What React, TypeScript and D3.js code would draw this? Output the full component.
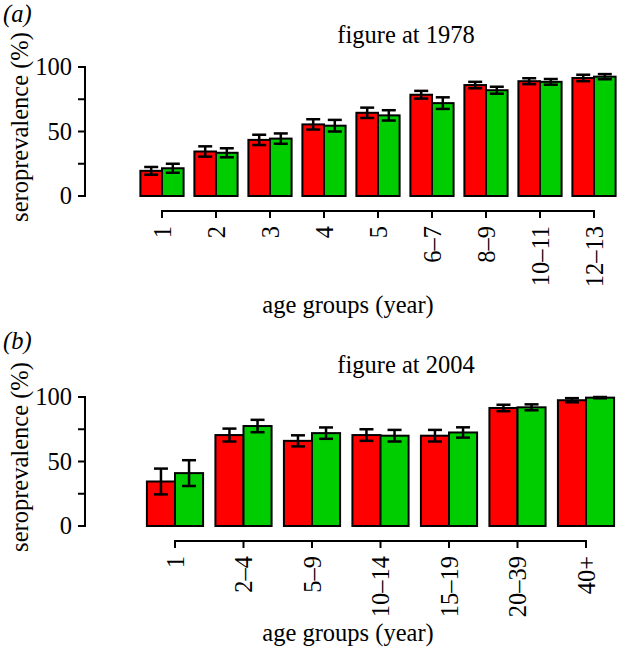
import React from "react";
import * as d3 from "d3";

const groupsA = ["1", "2", "3", "4", "5", "6–7", "8–9", "10–11", "12–13"];
const redA = [19.5, 34.5, 43.5, 55.5, 64.5, 78.5, 86, 89, 91.5];
const redErrA = [3, 4, 4, 4, 4, 3, 2.5, 2.3, 2.5];
const greenA = [21.5, 33.5, 44.5, 54.5, 62.5, 72, 82, 88.5, 92.5];
const greenErrA = [3.5, 3.5, 4, 4.5, 4, 4.5, 2.7, 2.2, 2];

const groupsB = ["1", "2–4", "5–9", "10–14", "15–19", "20–39", "40+"];
const redB = [34.5, 70.5, 66, 70.5, 70, 91.5, 97.5];
const redErrB = [10, 5, 4.3, 4.5, 4.5, 2.5, 1.6];
const greenB = [41, 77.5, 72, 70, 72.5, 92, 99.5];
const greenErrB = [10, 4.8, 4.4, 4.5, 4, 2.3, 0.5];

const yTicks = [0, 25, 50, 75, 100];
const yLabelTicks = [0, 50, 100];

const FONT = "'Liberation Serif', 'Times New Roman', serif";
const FS = 24.5;
const RED = "#FF0000";
const GREEN = "#00CD00";

type PanelProps = {
  tag: string;
  tagY: number;
  title: string;
  groups: string[];
  red: number[];
  redErr: number[];
  green: number[];
  greenErr: number[];
  top: number;
  xRange: [number, number];
  padInner: number;
};

function Panel(p: PanelProps) {
  const y0 = p.top + 196;
  const y1 = p.top + 67;
  const y = d3.scaleLinear().domain([0, 100]).range([y0, y1]);
  const x = d3
    .scaleBand<string>()
    .domain(p.groups)
    .range(p.xRange)
    .paddingInner(p.padInner)
    .paddingOuter(p.padInner / 2);
  const sub = d3.scaleBand<string>().domain(["r", "g"]).range([0, x.bandwidth()]);
  const axisY = p.top + 211;
  const axisX = 85;
  const first = x(p.groups[0])! + x.bandwidth() / 2;
  const last = x(p.groups[p.groups.length - 1])! + x.bandwidth() / 2;
  const capW = 14;

  const series = [
    { key: "r", vals: p.red, errs: p.redErr, color: RED },
    { key: "g", vals: p.green, errs: p.greenErr, color: GREEN },
  ];

  return (
    <g>
      <text x={3} y={p.tagY} fontFamily={FONT} fontSize={FS} fontStyle="italic">
        {p.tag}
      </text>
      <text x={406} y={p.top + 43} fontFamily={FONT} fontSize={FS} textAnchor="middle">
        {p.title}
      </text>
      <text
        transform={`translate(28,${p.top + 127}) rotate(-90)`}
        fontFamily={FONT}
        fontSize={FS}
        textAnchor="middle"
      >
        seroprevalence (%)
      </text>
      {/* y axis */}
      <line x1={axisX} x2={axisX} y1={y(0)} y2={y(100)} stroke="#000" strokeWidth={2} strokeLinecap="square" />
      {yTicks.map((t) => (
        <line key={t} x1={axisX - 7} x2={axisX} y1={y(t)} y2={y(t)} stroke="#000" strokeWidth={2} />
      ))}
      {yLabelTicks.map((t) => (
        <text
          key={t}
          x={72}
          y={y(t)}
          dy="0.33em"
          fontFamily={FONT}
          fontSize={FS}
          textAnchor="end"
        >
          {t}
        </text>
      ))}
      {/* bars */}
      {p.groups.map((g, i) => (
        <g key={g}>
          {series.map((s) => {
            const bx = x(g)! + sub(s.key)!;
            return (
              <rect
                key={s.key}
                x={bx}
                y={y(s.vals[i])}
                width={sub.bandwidth()}
                height={y(0) - y(s.vals[i])}
                fill={s.color}
                stroke="#000"
                strokeWidth={2}
              />
            );
          })}
          {series.map((s) => {
            const cx = x(g)! + sub(s.key)! + sub.bandwidth() / 2;
            const hi = y(s.vals[i] + s.errs[i]);
            const lo = y(s.vals[i] - s.errs[i]);
            return (
              <g key={"e" + s.key} stroke="#000" strokeWidth={2.5}>
                <line x1={cx} x2={cx} y1={hi} y2={lo} />
                <line x1={cx - capW / 2} x2={cx + capW / 2} y1={hi} y2={hi} />
                <line x1={cx - capW / 2} x2={cx + capW / 2} y1={lo} y2={lo} />
              </g>
            );
          })}
        </g>
      ))}
      {/* x axis */}
      <line x1={first} x2={last} y1={axisY} y2={axisY} stroke="#000" strokeWidth={2} strokeLinecap="square" />
      {p.groups.map((g) => {
        const cx = x(g)! + x.bandwidth() / 2;
        return (
          <g key={"t" + g}>
            <line x1={cx} x2={cx} y1={axisY} y2={axisY + 7} stroke="#000" strokeWidth={2} />
            <text
              transform={`translate(${cx + 8.5},${axisY + 15}) rotate(-90)`}
              fontFamily={FONT}
              fontSize={FS}
              textAnchor="end"
            >
              {g}
            </text>
          </g>
        );
      })}
    </g>
  );
}

export default function App() {
  return (
    <svg
      width={617}
      height={647}
      style={{ position: "absolute", left: 0, top: 0, background: "#fff" }}
    >
      <rect x={0} y={0} width={617} height={647} fill="#fff" />
      <Panel
        tag="(a)"
        tagY={22}
        title="figure at 1978"
        groups={groupsA}
        red={redA}
        redErr={redErrA}
        green={greenA}
        greenErr={greenErrA}
        top={0}
        xRange={[135, 621]}
        padInner={0.2}
      />
      <text x={348} y={313} fontFamily={FONT} fontSize={FS} textAnchor="middle">
        age groups (year)
      </text>
      <Panel
        tag="(b)"
        tagY={349}
        title="figure at 2004"
        groups={groupsB}
        red={redB}
        redErr={redErrB}
        green={greenB}
        greenErr={greenErrB}
        top={330}
        xRange={[140.75, 620.25]}
        padInner={0.18}
      />
      <text x={348} y={641} fontFamily={FONT} fontSize={FS} textAnchor="middle">
        age groups (year)
      </text>
    </svg>
  );
}
